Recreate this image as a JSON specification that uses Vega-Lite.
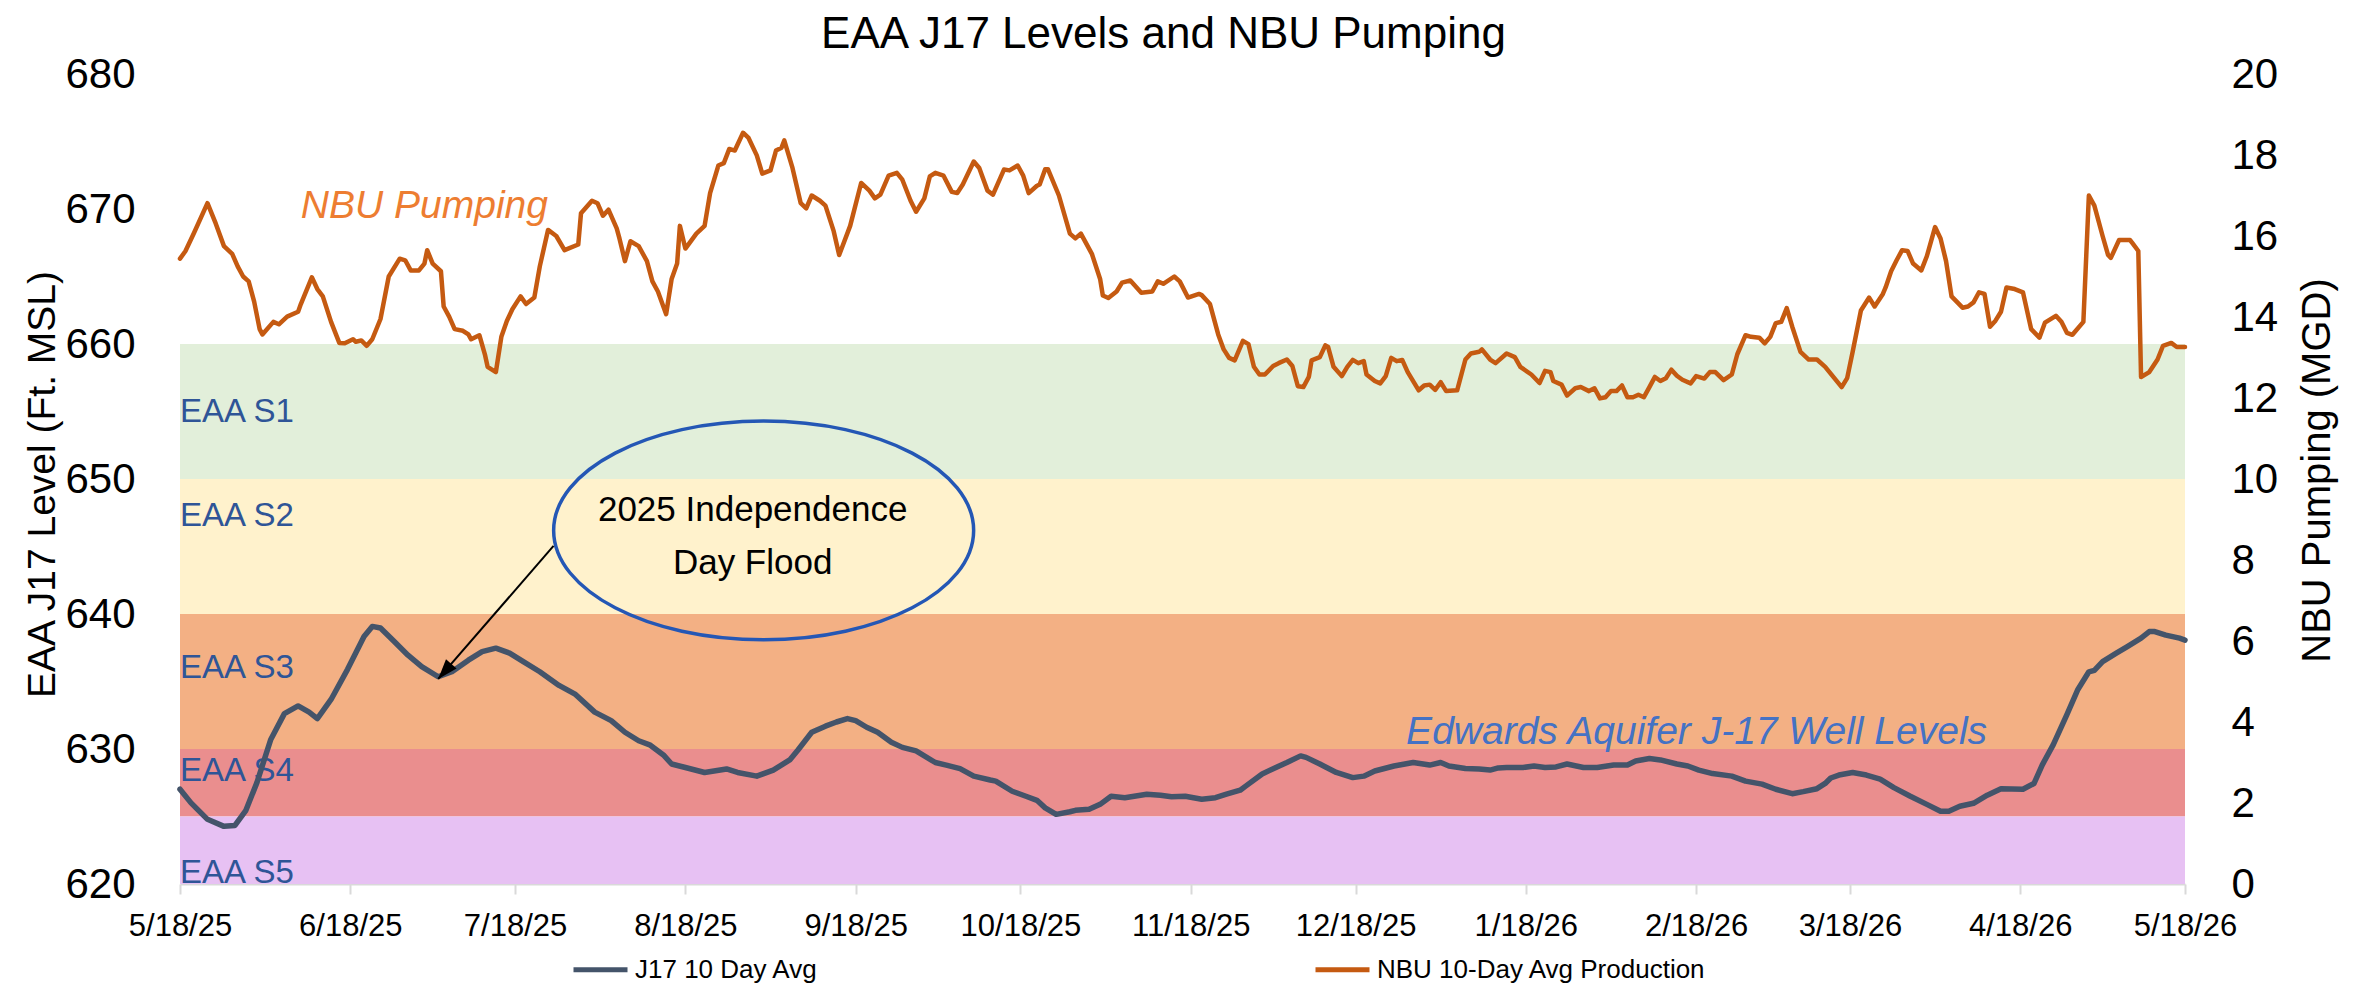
{
  "$schema": "https://vega.github.io/schema/vega-lite/v6.json",
  "width": 2005,
  "height": 810,
  "autosize": {"type": "none"},
  "padding": {"left": 180, "top": 74, "right": 182, "bottom": 102},
  "background": "white",
  "title": {
    "text": "EAA J17 Levels and NBU Pumping",
    "font": "Liberation Sans",
    "fontSize": 44,
    "fontWeight": "normal",
    "color": "black",
    "anchor": "middle",
    "frame": "group",
    "baseline": "alphabetic",
    "offset": -39,
    "dx": -19
  },
  "config": {
    "view": {"stroke": null},
    "font": "Liberation Sans",
    "axis": {"grid": false, "labelColor": "black", "titleColor": "black", "titleFontWeight": "normal"}
  },
  "datasets": {
    "j17": [
      {"date": "2025-05-18T00:00", "level": 627.02},
      {"date": "2025-05-20T00:00", "level": 626.01},
      {"date": "2025-05-23T00:00", "level": 624.79},
      {"date": "2025-05-26T00:00", "level": 624.27},
      {"date": "2025-05-28T00:00", "level": 624.34},
      {"date": "2025-05-30T00:00", "level": 625.46},
      {"date": "2025-06-01T00:00", "level": 627.51},
      {"date": "2025-06-03T12:00", "level": 630.68},
      {"date": "2025-06-06T00:00", "level": 632.62},
      {"date": "2025-06-08T12:00", "level": 633.19},
      {"date": "2025-06-10T12:00", "level": 632.73},
      {"date": "2025-06-12T00:00", "level": 632.25},
      {"date": "2025-06-14T12:00", "level": 633.67},
      {"date": "2025-06-17T12:00", "level": 635.9},
      {"date": "2025-06-20T12:00", "level": 638.33},
      {"date": "2025-06-22T00:00", "level": 639.08},
      {"date": "2025-06-23T12:00", "level": 638.96},
      {"date": "2025-06-26T00:00", "level": 637.96},
      {"date": "2025-06-28T12:00", "level": 636.95},
      {"date": "2025-07-01T00:00", "level": 636.1},
      {"date": "2025-07-04T00:00", "level": 635.35},
      {"date": "2025-07-06T12:00", "level": 635.72},
      {"date": "2025-07-09T12:00", "level": 636.58},
      {"date": "2025-07-12T00:00", "level": 637.21},
      {"date": "2025-07-14T12:00", "level": 637.47},
      {"date": "2025-07-17T00:00", "level": 637.1},
      {"date": "2025-07-19T12:00", "level": 636.47},
      {"date": "2025-07-22T12:00", "level": 635.72},
      {"date": "2025-07-26T00:00", "level": 634.71},
      {"date": "2025-07-29T00:00", "level": 634.04},
      {"date": "2025-08-01T12:00", "level": 632.73},
      {"date": "2025-08-04T12:00", "level": 632.1},
      {"date": "2025-08-07T00:00", "level": 631.24},
      {"date": "2025-08-09T12:00", "level": 630.61},
      {"date": "2025-08-11T12:00", "level": 630.31},
      {"date": "2025-08-14T00:00", "level": 629.56},
      {"date": "2025-08-15T12:00", "level": 628.89},
      {"date": "2025-08-18T00:00", "level": 628.63},
      {"date": "2025-08-21T12:00", "level": 628.26},
      {"date": "2025-08-25T12:00", "level": 628.52},
      {"date": "2025-08-27T12:00", "level": 628.26},
      {"date": "2025-08-31T00:00", "level": 627.99},
      {"date": "2025-09-03T00:00", "level": 628.44},
      {"date": "2025-09-06T00:00", "level": 629.19},
      {"date": "2025-09-07T12:00", "level": 629.93},
      {"date": "2025-09-10T00:00", "level": 631.24},
      {"date": "2025-09-12T12:00", "level": 631.69},
      {"date": "2025-09-14T12:00", "level": 632.0},
      {"date": "2025-09-16T12:00", "level": 632.25},
      {"date": "2025-09-18T00:00", "level": 632.1},
      {"date": "2025-09-20T00:00", "level": 631.61},
      {"date": "2025-09-22T00:00", "level": 631.24},
      {"date": "2025-09-24T12:00", "level": 630.5},
      {"date": "2025-09-26T12:00", "level": 630.12},
      {"date": "2025-09-29T00:00", "level": 629.86},
      {"date": "2025-10-02T12:00", "level": 629.0},
      {"date": "2025-10-04T12:00", "level": 628.81},
      {"date": "2025-10-07T00:00", "level": 628.55},
      {"date": "2025-10-09T12:00", "level": 627.99},
      {"date": "2025-10-12T12:00", "level": 627.7},
      {"date": "2025-10-13T12:00", "level": 627.62},
      {"date": "2025-10-16T12:00", "level": 626.87},
      {"date": "2025-10-19T00:00", "level": 626.5},
      {"date": "2025-10-21T00:00", "level": 626.2},
      {"date": "2025-10-22T12:00", "level": 625.64},
      {"date": "2025-10-24T12:00", "level": 625.16},
      {"date": "2025-10-27T00:00", "level": 625.35},
      {"date": "2025-10-28T00:00", "level": 625.46},
      {"date": "2025-10-30T12:00", "level": 625.53},
      {"date": "2025-11-01T12:00", "level": 625.9},
      {"date": "2025-11-03T12:00", "level": 626.5},
      {"date": "2025-11-06T00:00", "level": 626.39},
      {"date": "2025-11-10T00:00", "level": 626.65},
      {"date": "2025-11-12T12:00", "level": 626.58},
      {"date": "2025-11-14T12:00", "level": 626.47},
      {"date": "2025-11-17T00:00", "level": 626.5},
      {"date": "2025-11-20T00:00", "level": 626.28},
      {"date": "2025-11-22T12:00", "level": 626.39},
      {"date": "2025-11-24T12:00", "level": 626.65},
      {"date": "2025-11-27T00:00", "level": 626.95},
      {"date": "2025-11-28T00:00", "level": 627.25},
      {"date": "2025-12-01T00:00", "level": 628.15},
      {"date": "2025-12-03T12:00", "level": 628.63},
      {"date": "2025-12-05T12:00", "level": 629.0},
      {"date": "2025-12-08T00:00", "level": 629.49},
      {"date": "2025-12-09T00:00", "level": 629.38},
      {"date": "2025-12-11T12:00", "level": 628.89},
      {"date": "2025-12-14T12:00", "level": 628.26},
      {"date": "2025-12-17T12:00", "level": 627.88},
      {"date": "2025-12-19T12:00", "level": 627.99},
      {"date": "2025-12-21T12:00", "level": 628.37},
      {"date": "2025-12-25T00:00", "level": 628.74},
      {"date": "2025-12-28T12:00", "level": 629.0},
      {"date": "2025-12-31T12:00", "level": 628.81},
      {"date": "2026-01-02T12:00", "level": 629.0},
      {"date": "2026-01-04T00:00", "level": 628.74},
      {"date": "2026-01-07T00:00", "level": 628.55},
      {"date": "2026-01-09T12:00", "level": 628.52},
      {"date": "2026-01-11T12:00", "level": 628.44},
      {"date": "2026-01-13T00:00", "level": 628.6},
      {"date": "2026-01-14T12:00", "level": 628.63},
      {"date": "2026-01-17T12:00", "level": 628.63},
      {"date": "2026-01-19T12:00", "level": 628.74},
      {"date": "2026-01-21T12:00", "level": 628.63},
      {"date": "2026-01-23T12:00", "level": 628.67},
      {"date": "2026-01-25T12:00", "level": 628.89},
      {"date": "2026-01-28T12:00", "level": 628.63},
      {"date": "2026-01-31T00:00", "level": 628.63},
      {"date": "2026-02-03T00:00", "level": 628.81},
      {"date": "2026-02-05T12:00", "level": 628.81},
      {"date": "2026-02-07T00:00", "level": 629.11},
      {"date": "2026-02-09T12:00", "level": 629.3},
      {"date": "2026-02-11T12:00", "level": 629.19},
      {"date": "2026-02-14T12:00", "level": 628.89},
      {"date": "2026-02-16T12:00", "level": 628.74},
      {"date": "2026-02-18T12:00", "level": 628.44},
      {"date": "2026-02-21T00:00", "level": 628.18},
      {"date": "2026-02-24T12:00", "level": 627.99},
      {"date": "2026-02-27T00:00", "level": 627.62},
      {"date": "2026-03-02T00:00", "level": 627.4},
      {"date": "2026-03-04T12:00", "level": 627.02},
      {"date": "2026-03-07T12:00", "level": 626.69},
      {"date": "2026-03-09T12:00", "level": 626.84},
      {"date": "2026-03-12T00:00", "level": 627.06},
      {"date": "2026-03-13T12:00", "level": 627.45},
      {"date": "2026-03-14T12:00", "level": 627.85},
      {"date": "2026-03-16T00:00", "level": 628.07},
      {"date": "2026-03-18T12:00", "level": 628.26},
      {"date": "2026-03-21T00:00", "level": 628.07},
      {"date": "2026-03-23T12:00", "level": 627.77},
      {"date": "2026-03-26T00:00", "level": 627.14},
      {"date": "2026-03-29T00:00", "level": 626.5},
      {"date": "2026-04-01T00:00", "level": 625.9},
      {"date": "2026-04-03T12:00", "level": 625.39},
      {"date": "2026-04-05T00:00", "level": 625.39},
      {"date": "2026-04-07T00:00", "level": 625.76},
      {"date": "2026-04-09T12:00", "level": 625.98},
      {"date": "2026-04-12T00:00", "level": 626.58},
      {"date": "2026-04-14T12:00", "level": 627.06},
      {"date": "2026-04-18T12:00", "level": 627.02},
      {"date": "2026-04-20T12:00", "level": 627.44},
      {"date": "2026-04-22T00:00", "level": 628.81},
      {"date": "2026-04-24T00:00", "level": 630.31},
      {"date": "2026-04-26T12:00", "level": 632.55},
      {"date": "2026-04-28T12:00", "level": 634.41},
      {"date": "2026-04-30T12:00", "level": 635.72},
      {"date": "2026-05-01T12:00", "level": 635.83},
      {"date": "2026-05-03T00:00", "level": 636.47},
      {"date": "2026-05-05T12:00", "level": 637.1},
      {"date": "2026-05-07T12:00", "level": 637.59},
      {"date": "2026-05-10T00:00", "level": 638.21},
      {"date": "2026-05-11T12:00", "level": 638.7},
      {"date": "2026-05-12T12:00", "level": 638.7},
      {"date": "2026-05-14T12:00", "level": 638.44},
      {"date": "2026-05-17T00:00", "level": 638.21},
      {"date": "2026-05-18T00:00", "level": 638.07}
    ],
    "nbu": [
      {"date": "2025-05-18T00:00", "mgd": 15.44},
      {"date": "2025-05-19T00:00", "mgd": 15.63},
      {"date": "2025-05-20T12:00", "mgd": 16.06},
      {"date": "2025-05-23T00:00", "mgd": 16.81},
      {"date": "2025-05-24T12:00", "mgd": 16.31},
      {"date": "2025-05-26T00:00", "mgd": 15.75},
      {"date": "2025-05-27T12:00", "mgd": 15.56},
      {"date": "2025-05-28T12:00", "mgd": 15.25},
      {"date": "2025-05-29T12:00", "mgd": 15.0},
      {"date": "2025-05-30T12:00", "mgd": 14.88},
      {"date": "2025-05-31T12:00", "mgd": 14.38},
      {"date": "2025-06-01T12:00", "mgd": 13.7},
      {"date": "2025-06-02T00:00", "mgd": 13.57},
      {"date": "2025-06-04T00:00", "mgd": 13.88},
      {"date": "2025-06-05T00:00", "mgd": 13.82},
      {"date": "2025-06-06T12:00", "mgd": 14.01},
      {"date": "2025-06-08T12:00", "mgd": 14.13},
      {"date": "2025-06-09T00:00", "mgd": 14.32},
      {"date": "2025-06-11T00:00", "mgd": 14.98},
      {"date": "2025-06-12T00:00", "mgd": 14.69},
      {"date": "2025-06-13T00:00", "mgd": 14.51},
      {"date": "2025-06-14T12:00", "mgd": 13.88},
      {"date": "2025-06-16T00:00", "mgd": 13.36},
      {"date": "2025-06-17T00:00", "mgd": 13.35},
      {"date": "2025-06-18T12:00", "mgd": 13.45},
      {"date": "2025-06-19T00:00", "mgd": 13.39},
      {"date": "2025-06-20T00:00", "mgd": 13.42},
      {"date": "2025-06-21T00:00", "mgd": 13.29},
      {"date": "2025-06-22T00:00", "mgd": 13.45},
      {"date": "2025-06-23T12:00", "mgd": 13.95},
      {"date": "2025-06-25T00:00", "mgd": 15.0},
      {"date": "2025-06-27T00:00", "mgd": 15.44},
      {"date": "2025-06-28T00:00", "mgd": 15.4},
      {"date": "2025-06-29T00:00", "mgd": 15.15},
      {"date": "2025-06-30T12:00", "mgd": 15.15},
      {"date": "2025-07-01T12:00", "mgd": 15.32},
      {"date": "2025-07-02T00:00", "mgd": 15.65},
      {"date": "2025-07-03T00:00", "mgd": 15.32},
      {"date": "2025-07-04T12:00", "mgd": 15.13},
      {"date": "2025-07-05T00:00", "mgd": 14.26},
      {"date": "2025-07-06T00:00", "mgd": 14.01},
      {"date": "2025-07-07T00:00", "mgd": 13.7},
      {"date": "2025-07-08T12:00", "mgd": 13.66},
      {"date": "2025-07-09T12:00", "mgd": 13.57},
      {"date": "2025-07-10T00:00", "mgd": 13.45},
      {"date": "2025-07-11T12:00", "mgd": 13.55},
      {"date": "2025-07-12T12:00", "mgd": 13.08},
      {"date": "2025-07-13T00:00", "mgd": 12.77},
      {"date": "2025-07-14T12:00", "mgd": 12.64},
      {"date": "2025-07-15T12:00", "mgd": 13.51},
      {"date": "2025-07-16T12:00", "mgd": 13.9},
      {"date": "2025-07-17T12:00", "mgd": 14.19},
      {"date": "2025-07-19T00:00", "mgd": 14.51},
      {"date": "2025-07-20T00:00", "mgd": 14.32},
      {"date": "2025-07-21T12:00", "mgd": 14.48},
      {"date": "2025-07-22T12:00", "mgd": 15.25},
      {"date": "2025-07-24T00:00", "mgd": 16.15},
      {"date": "2025-07-25T12:00", "mgd": 16.0},
      {"date": "2025-07-27T00:00", "mgd": 15.65},
      {"date": "2025-07-29T12:00", "mgd": 15.79},
      {"date": "2025-07-30T00:00", "mgd": 16.56},
      {"date": "2025-08-01T00:00", "mgd": 16.87},
      {"date": "2025-08-02T00:00", "mgd": 16.81},
      {"date": "2025-08-03T00:00", "mgd": 16.5},
      {"date": "2025-08-04T00:00", "mgd": 16.65},
      {"date": "2025-08-05T12:00", "mgd": 16.19},
      {"date": "2025-08-06T00:00", "mgd": 15.94},
      {"date": "2025-08-07T00:00", "mgd": 15.38},
      {"date": "2025-08-08T00:00", "mgd": 15.87},
      {"date": "2025-08-09T12:00", "mgd": 15.75},
      {"date": "2025-08-11T00:00", "mgd": 15.38},
      {"date": "2025-08-12T00:00", "mgd": 14.88},
      {"date": "2025-08-13T00:00", "mgd": 14.63},
      {"date": "2025-08-14T12:00", "mgd": 14.07},
      {"date": "2025-08-15T12:00", "mgd": 14.94},
      {"date": "2025-08-16T12:00", "mgd": 15.32},
      {"date": "2025-08-17T00:00", "mgd": 16.25},
      {"date": "2025-08-18T00:00", "mgd": 15.69},
      {"date": "2025-08-20T00:00", "mgd": 16.06},
      {"date": "2025-08-21T12:00", "mgd": 16.25},
      {"date": "2025-08-22T12:00", "mgd": 17.06},
      {"date": "2025-08-24T00:00", "mgd": 17.74},
      {"date": "2025-08-25T00:00", "mgd": 17.8},
      {"date": "2025-08-26T00:00", "mgd": 18.15},
      {"date": "2025-08-27T00:00", "mgd": 18.11},
      {"date": "2025-08-28T12:00", "mgd": 18.55},
      {"date": "2025-08-29T12:00", "mgd": 18.42},
      {"date": "2025-08-31T00:00", "mgd": 17.99},
      {"date": "2025-09-01T00:00", "mgd": 17.54},
      {"date": "2025-09-02T12:00", "mgd": 17.62},
      {"date": "2025-09-03T12:00", "mgd": 18.11},
      {"date": "2025-09-04T12:00", "mgd": 18.18},
      {"date": "2025-09-05T00:00", "mgd": 18.36},
      {"date": "2025-09-06T12:00", "mgd": 17.68},
      {"date": "2025-09-08T00:00", "mgd": 16.81},
      {"date": "2025-09-09T00:00", "mgd": 16.68},
      {"date": "2025-09-10T00:00", "mgd": 17.0},
      {"date": "2025-09-11T12:00", "mgd": 16.87},
      {"date": "2025-09-12T12:00", "mgd": 16.75},
      {"date": "2025-09-14T00:00", "mgd": 16.12},
      {"date": "2025-09-15T00:00", "mgd": 15.53},
      {"date": "2025-09-17T00:00", "mgd": 16.25},
      {"date": "2025-09-19T00:00", "mgd": 17.31},
      {"date": "2025-09-20T12:00", "mgd": 17.12},
      {"date": "2025-09-21T12:00", "mgd": 16.93},
      {"date": "2025-09-22T12:00", "mgd": 17.02},
      {"date": "2025-09-24T00:00", "mgd": 17.49},
      {"date": "2025-09-25T12:00", "mgd": 17.56},
      {"date": "2025-09-26T12:00", "mgd": 17.39},
      {"date": "2025-09-28T00:00", "mgd": 16.87},
      {"date": "2025-09-29T00:00", "mgd": 16.6},
      {"date": "2025-09-30T12:00", "mgd": 16.93},
      {"date": "2025-10-01T12:00", "mgd": 17.47},
      {"date": "2025-10-02T12:00", "mgd": 17.56},
      {"date": "2025-10-04T00:00", "mgd": 17.49},
      {"date": "2025-10-05T12:00", "mgd": 17.09},
      {"date": "2025-10-06T12:00", "mgd": 17.06},
      {"date": "2025-10-07T12:00", "mgd": 17.27},
      {"date": "2025-10-09T12:00", "mgd": 17.84},
      {"date": "2025-10-10T12:00", "mgd": 17.68},
      {"date": "2025-10-12T00:00", "mgd": 17.12},
      {"date": "2025-10-13T00:00", "mgd": 17.02},
      {"date": "2025-10-15T00:00", "mgd": 17.64},
      {"date": "2025-10-16T00:00", "mgd": 17.62},
      {"date": "2025-10-17T12:00", "mgd": 17.74},
      {"date": "2025-10-18T12:00", "mgd": 17.49},
      {"date": "2025-10-19T12:00", "mgd": 17.06},
      {"date": "2025-10-21T00:00", "mgd": 17.24},
      {"date": "2025-10-21T12:00", "mgd": 17.27},
      {"date": "2025-10-22T12:00", "mgd": 17.65},
      {"date": "2025-10-23T00:00", "mgd": 17.65},
      {"date": "2025-10-25T00:00", "mgd": 17.0},
      {"date": "2025-10-27T00:00", "mgd": 16.06},
      {"date": "2025-10-28T00:00", "mgd": 15.94},
      {"date": "2025-10-29T00:00", "mgd": 16.06},
      {"date": "2025-10-31T00:00", "mgd": 15.56},
      {"date": "2025-11-01T12:00", "mgd": 14.94},
      {"date": "2025-11-02T00:00", "mgd": 14.53},
      {"date": "2025-11-03T00:00", "mgd": 14.47},
      {"date": "2025-11-04T12:00", "mgd": 14.63},
      {"date": "2025-11-05T12:00", "mgd": 14.85},
      {"date": "2025-11-07T00:00", "mgd": 14.9},
      {"date": "2025-11-09T00:00", "mgd": 14.6},
      {"date": "2025-11-11T00:00", "mgd": 14.63},
      {"date": "2025-11-12T00:00", "mgd": 14.88},
      {"date": "2025-11-13T00:00", "mgd": 14.82},
      {"date": "2025-11-15T00:00", "mgd": 15.0},
      {"date": "2025-11-16T00:00", "mgd": 14.88},
      {"date": "2025-11-17T12:00", "mgd": 14.48},
      {"date": "2025-11-19T12:00", "mgd": 14.57},
      {"date": "2025-11-20T00:00", "mgd": 14.54},
      {"date": "2025-11-21T12:00", "mgd": 14.32},
      {"date": "2025-11-23T00:00", "mgd": 13.57},
      {"date": "2025-11-24T00:00", "mgd": 13.2},
      {"date": "2025-11-25T00:00", "mgd": 12.99},
      {"date": "2025-11-26T00:00", "mgd": 12.93},
      {"date": "2025-11-27T12:00", "mgd": 13.41},
      {"date": "2025-11-28T12:00", "mgd": 13.33},
      {"date": "2025-11-29T12:00", "mgd": 12.77},
      {"date": "2025-11-30T12:00", "mgd": 12.58},
      {"date": "2025-12-01T12:00", "mgd": 12.58},
      {"date": "2025-12-03T00:00", "mgd": 12.79},
      {"date": "2025-12-04T00:00", "mgd": 12.86},
      {"date": "2025-12-05T12:00", "mgd": 12.95},
      {"date": "2025-12-06T12:00", "mgd": 12.79},
      {"date": "2025-12-07T12:00", "mgd": 12.29},
      {"date": "2025-12-08T12:00", "mgd": 12.27},
      {"date": "2025-12-09T12:00", "mgd": 12.52},
      {"date": "2025-12-10T00:00", "mgd": 12.93},
      {"date": "2025-12-11T12:00", "mgd": 13.01},
      {"date": "2025-12-12T12:00", "mgd": 13.3},
      {"date": "2025-12-13T00:00", "mgd": 13.26},
      {"date": "2025-12-14T00:00", "mgd": 12.77},
      {"date": "2025-12-15T12:00", "mgd": 12.54},
      {"date": "2025-12-16T12:00", "mgd": 12.77},
      {"date": "2025-12-17T12:00", "mgd": 12.94},
      {"date": "2025-12-18T12:00", "mgd": 12.86},
      {"date": "2025-12-19T12:00", "mgd": 12.91},
      {"date": "2025-12-20T00:00", "mgd": 12.58},
      {"date": "2025-12-21T12:00", "mgd": 12.42},
      {"date": "2025-12-22T12:00", "mgd": 12.36},
      {"date": "2025-12-23T12:00", "mgd": 12.54},
      {"date": "2025-12-24T12:00", "mgd": 12.99},
      {"date": "2025-12-25T12:00", "mgd": 12.91},
      {"date": "2025-12-26T12:00", "mgd": 12.94},
      {"date": "2025-12-27T12:00", "mgd": 12.64},
      {"date": "2025-12-29T12:00", "mgd": 12.19},
      {"date": "2025-12-30T12:00", "mgd": 12.31},
      {"date": "2025-12-31T12:00", "mgd": 12.33},
      {"date": "2026-01-01T12:00", "mgd": 12.2},
      {"date": "2026-01-02T12:00", "mgd": 12.39},
      {"date": "2026-01-03T12:00", "mgd": 12.17},
      {"date": "2026-01-05T12:00", "mgd": 12.19},
      {"date": "2026-01-07T00:00", "mgd": 12.95},
      {"date": "2026-01-08T00:00", "mgd": 13.1},
      {"date": "2026-01-09T12:00", "mgd": 13.14},
      {"date": "2026-01-10T00:00", "mgd": 13.2},
      {"date": "2026-01-11T12:00", "mgd": 12.95},
      {"date": "2026-01-12T12:00", "mgd": 12.86},
      {"date": "2026-01-14T12:00", "mgd": 13.1},
      {"date": "2026-01-16T00:00", "mgd": 13.01},
      {"date": "2026-01-17T00:00", "mgd": 12.77},
      {"date": "2026-01-19T00:00", "mgd": 12.58},
      {"date": "2026-01-20T12:00", "mgd": 12.37},
      {"date": "2026-01-21T12:00", "mgd": 12.67},
      {"date": "2026-01-22T12:00", "mgd": 12.64},
      {"date": "2026-01-23T00:00", "mgd": 12.42},
      {"date": "2026-01-24T12:00", "mgd": 12.33},
      {"date": "2026-01-25T12:00", "mgd": 12.06},
      {"date": "2026-01-27T00:00", "mgd": 12.24},
      {"date": "2026-01-28T00:00", "mgd": 12.27},
      {"date": "2026-01-29T12:00", "mgd": 12.17},
      {"date": "2026-01-30T12:00", "mgd": 12.24},
      {"date": "2026-01-31T12:00", "mgd": 11.99},
      {"date": "2026-02-01T12:00", "mgd": 12.02},
      {"date": "2026-02-02T12:00", "mgd": 12.17},
      {"date": "2026-02-03T12:00", "mgd": 12.17},
      {"date": "2026-02-04T12:00", "mgd": 12.31},
      {"date": "2026-02-05T12:00", "mgd": 12.02},
      {"date": "2026-02-06T12:00", "mgd": 12.02},
      {"date": "2026-02-07T12:00", "mgd": 12.08},
      {"date": "2026-02-08T12:00", "mgd": 12.02},
      {"date": "2026-02-09T12:00", "mgd": 12.27},
      {"date": "2026-02-10T12:00", "mgd": 12.52},
      {"date": "2026-02-11T12:00", "mgd": 12.42},
      {"date": "2026-02-12T12:00", "mgd": 12.49},
      {"date": "2026-02-13T12:00", "mgd": 12.7},
      {"date": "2026-02-14T12:00", "mgd": 12.55},
      {"date": "2026-02-15T12:00", "mgd": 12.45},
      {"date": "2026-02-17T00:00", "mgd": 12.36},
      {"date": "2026-02-18T00:00", "mgd": 12.54},
      {"date": "2026-02-19T12:00", "mgd": 12.48},
      {"date": "2026-02-20T12:00", "mgd": 12.64},
      {"date": "2026-02-21T12:00", "mgd": 12.64},
      {"date": "2026-02-23T00:00", "mgd": 12.44},
      {"date": "2026-02-24T12:00", "mgd": 12.58},
      {"date": "2026-02-25T12:00", "mgd": 13.08},
      {"date": "2026-02-27T00:00", "mgd": 13.55},
      {"date": "2026-02-28T00:00", "mgd": 13.51},
      {"date": "2026-03-01T12:00", "mgd": 13.49},
      {"date": "2026-03-02T12:00", "mgd": 13.35},
      {"date": "2026-03-03T12:00", "mgd": 13.51},
      {"date": "2026-03-04T12:00", "mgd": 13.85},
      {"date": "2026-03-05T12:00", "mgd": 13.88},
      {"date": "2026-03-06T12:00", "mgd": 14.22},
      {"date": "2026-03-07T12:00", "mgd": 13.76},
      {"date": "2026-03-09T00:00", "mgd": 13.14},
      {"date": "2026-03-10T12:00", "mgd": 12.95},
      {"date": "2026-03-12T00:00", "mgd": 12.95},
      {"date": "2026-03-13T12:00", "mgd": 12.77},
      {"date": "2026-03-14T12:00", "mgd": 12.6},
      {"date": "2026-03-16T12:00", "mgd": 12.27},
      {"date": "2026-03-17T12:00", "mgd": 12.49},
      {"date": "2026-03-18T12:00", "mgd": 13.14},
      {"date": "2026-03-20T00:00", "mgd": 14.16},
      {"date": "2026-03-21T12:00", "mgd": 14.48},
      {"date": "2026-03-22T12:00", "mgd": 14.26},
      {"date": "2026-03-24T00:00", "mgd": 14.57},
      {"date": "2026-03-24T12:00", "mgd": 14.73},
      {"date": "2026-03-25T12:00", "mgd": 15.13},
      {"date": "2026-03-26T12:00", "mgd": 15.4},
      {"date": "2026-03-27T12:00", "mgd": 15.65},
      {"date": "2026-03-28T12:00", "mgd": 15.63},
      {"date": "2026-03-29T12:00", "mgd": 15.32},
      {"date": "2026-03-31T00:00", "mgd": 15.15},
      {"date": "2026-04-01T00:00", "mgd": 15.5},
      {"date": "2026-04-02T12:00", "mgd": 16.22},
      {"date": "2026-04-03T12:00", "mgd": 15.94},
      {"date": "2026-04-04T12:00", "mgd": 15.38},
      {"date": "2026-04-05T12:00", "mgd": 14.51},
      {"date": "2026-04-07T12:00", "mgd": 14.23},
      {"date": "2026-04-08T12:00", "mgd": 14.26},
      {"date": "2026-04-09T12:00", "mgd": 14.36},
      {"date": "2026-04-10T12:00", "mgd": 14.61},
      {"date": "2026-04-11T12:00", "mgd": 14.57},
      {"date": "2026-04-12T12:00", "mgd": 13.76},
      {"date": "2026-04-13T12:00", "mgd": 13.91},
      {"date": "2026-04-14T12:00", "mgd": 14.13},
      {"date": "2026-04-15T12:00", "mgd": 14.73},
      {"date": "2026-04-17T00:00", "mgd": 14.69},
      {"date": "2026-04-18T12:00", "mgd": 14.61},
      {"date": "2026-04-20T00:00", "mgd": 13.7},
      {"date": "2026-04-21T12:00", "mgd": 13.49},
      {"date": "2026-04-22T12:00", "mgd": 13.86},
      {"date": "2026-04-24T12:00", "mgd": 14.03},
      {"date": "2026-04-25T12:00", "mgd": 13.88},
      {"date": "2026-04-26T12:00", "mgd": 13.61},
      {"date": "2026-04-27T12:00", "mgd": 13.56},
      {"date": "2026-04-29T12:00", "mgd": 13.88},
      {"date": "2026-04-30T12:00", "mgd": 17.0},
      {"date": "2026-05-01T12:00", "mgd": 16.75},
      {"date": "2026-05-03T00:00", "mgd": 16.0},
      {"date": "2026-05-04T00:00", "mgd": 15.53},
      {"date": "2026-05-04T12:00", "mgd": 15.46},
      {"date": "2026-05-06T00:00", "mgd": 15.9},
      {"date": "2026-05-08T00:00", "mgd": 15.9},
      {"date": "2026-05-08T12:00", "mgd": 15.81},
      {"date": "2026-05-09T12:00", "mgd": 15.63},
      {"date": "2026-05-10T00:00", "mgd": 12.52},
      {"date": "2026-05-11T12:00", "mgd": 12.64},
      {"date": "2026-05-13T00:00", "mgd": 12.95},
      {"date": "2026-05-14T00:00", "mgd": 13.29},
      {"date": "2026-05-15T12:00", "mgd": 13.36},
      {"date": "2026-05-16T12:00", "mgd": 13.26},
      {"date": "2026-05-18T00:00", "mgd": 13.26}
    ],
    "bands": [
      {"stage": "EAA S1", "date": "2025-05-18T00:00", "date2": "2026-05-18T00:00", "level": 660, "lo": 650},
      {"stage": "EAA S2", "date": "2025-05-18T00:00", "date2": "2026-05-18T00:00", "level": 650, "lo": 640},
      {"stage": "EAA S3", "date": "2025-05-18T00:00", "date2": "2026-05-18T00:00", "level": 640, "lo": 630},
      {"stage": "EAA S4", "date": "2025-05-18T00:00", "date2": "2026-05-18T00:00", "level": 630, "lo": 625},
      {"stage": "EAA S5", "date": "2025-05-18T00:00", "date2": "2026-05-18T00:00", "level": 625, "lo": 620}
    ],
    "bandLabels": [
      {"stage": "EAA S1", "date": "2025-05-18T00:00", "level": 654.22},
      {"stage": "EAA S2", "date": "2025-05-18T00:00", "level": 646.52},
      {"stage": "EAA S3", "date": "2025-05-18T00:00", "level": 635.26},
      {"stage": "EAA S4", "date": "2025-05-18T00:00", "level": 627.63},
      {"stage": "EAA S5", "date": "2025-05-18T00:00", "level": 620.07}
    ]
  },
  "encoding": {
    "x": {
      "field": "date", "type": "temporal", "title": null,
      "scale": {"domain": [{"year": 2025, "month": 5, "date": 18}, {"year": 2026, "month": 5, "date": 18}], "nice": false},
      "axis": {
        "values": [
          {"year": 2025, "month": 5, "date": 18}, {"year": 2025, "month": 6, "date": 18}, {"year": 2025, "month": 7, "date": 18},
          {"year": 2025, "month": 8, "date": 18}, {"year": 2025, "month": 9, "date": 18}, {"year": 2025, "month": 10, "date": 18},
          {"year": 2025, "month": 11, "date": 18}, {"year": 2025, "month": 12, "date": 18}, {"year": 2026, "month": 1, "date": 18},
          {"year": 2026, "month": 2, "date": 18}, {"year": 2026, "month": 3, "date": 18}, {"year": 2026, "month": 4, "date": 18},
          {"year": 2026, "month": 5, "date": 18}
        ],
        "format": "%-m/%-d/%y",
        "labelFont": "Liberation Sans",
        "labelFontSize": 31,
        "labelPadding": 17,
        "labelFlush": false,
        "labelOverlap": false,
        "labelBound": false,
        "tickSize": 10,
        "tickWidth": 2,
        "tickColor": "#D9D9D9",
        "domainColor": "#D9D9D9",
        "domainWidth": 2,
        "grid": false
      }
    }
  },
  "layer": [
    {
      "encoding": {
        "y": {
          "field": "level", "type": "quantitative", "title": "EAA J17 Level (Ft. MSL)",
          "scale": {"domain": [620, 680], "nice": false, "zero": false},
          "axis": {
            "values": [620, 630, 640, 650, 660, 670, 680],
            "labelFont": "Liberation Sans",
            "labelFontSize": 42,
            "labelPadding": 45,
            "ticks": false,
            "domain": false,
            "grid": false,
            "titleFont": "Liberation Sans",
            "titleFontSize": 39,
            "titleFontWeight": "normal",
            "titleAngle": 270,
            "titleX": -126,
            "titleY": 410,
            "titleAlign": "center",
            "titleBaseline": "alphabetic"
          }
        }
      },
      "layer": [
        {
          "data": {"name": "bands"},
          "mark": {"type": "rect", "opacity": 1},
          "encoding": {
            "x2": {"field": "date2"},
            "y2": {"field": "lo"},
            "fill": {"field": "stage", "type": "nominal", "legend": null,
              "scale": {"domain": ["EAA S1", "EAA S2", "EAA S3", "EAA S4", "EAA S5"],
                        "range": ["#E2EFDA", "#FFF2CC", "#F3B084", "#EA8E8E", "#E7C1F3"]}}
          }
        },
        {
          "data": {"name": "bandLabels"},
          "mark": {"type": "text", "align": "left", "baseline": "alphabetic", "font": "Liberation Sans", "fontSize": 33, "color": "#2F5597"},
          "encoding": {"text": {"field": "stage"}}
        },
        {
          "data": {"name": "j17"},
          "mark": {"type": "line", "strokeWidth": 5.5, "strokeJoin": "round", "strokeCap": "round"},
          "encoding": {
            "color": {
              "datum": "J17 10 Day Avg", "type": "nominal",
              "scale": {"domain": ["J17 10 Day Avg", "NBU 10-Day Avg Production"], "range": ["#44546A", "#C55A11"]},
              "legend": {
                "orient": "none", "legendX": 391, "legendY": 866, "direction": "horizontal",
                "title": null, "symbolType": "stroke", "symbolSize": 2916, "symbolStrokeWidth": 5,
                "labelFont": "Liberation Sans", "labelFontSize": 26, "labelColor": "black",
                "labelOffset": 5, "columnPadding": 486, "padding": 0, "labelLimit": 600
              }
            }
          }
        },
        {
          "data": {"values": [{"date": "2025-09-01T06:00", "level": 646.19}]},
          "mark": {
            "type": "point", "filled": false, "opacity": 1, "stroke": "#2457B5", "strokeWidth": 3.5, "size": 176400,
            "shape": "M-1,0C-1,-0.2877,-0.5523,-0.521,0,-0.521C0.5523,-0.521,1,-0.2877,1,0C1,0.2877,0.5523,0.521,0,0.521C-0.5523,0.521,-1,0.2877,-1,0Z"
          }
        },
        {
          "data": {"values": [{"date": "2025-08-30T06:00", "level": 646.89, "note": "2025 Independence\nDay Flood"}]},
          "mark": {"type": "text", "align": "center", "baseline": "alphabetic", "lineBreak": "\n", "lineHeight": 53, "font": "Liberation Sans", "fontSize": 35, "color": "black"},
          "encoding": {"text": {"field": "note"}}
        },
        {
          "data": {"values": [{"date": "2025-07-25T00:00", "level": 645.04, "date2": "2025-07-04T00:00", "level2": 635.19}]},
          "mark": {"type": "rule", "color": "black", "strokeWidth": 2},
          "encoding": {
            "x2": {"field": "date2"},
            "y2": {"field": "level2"}
          }
        },
        {
          "data": {"values": [{"date": "2025-07-04T00:00", "level": 635.19}]},
          "mark": {"type": "point", "filled": true, "opacity": 1, "color": "black", "size": 625, "angle": 221, "shape": "M0,0L-0.56,1.6L0.56,1.6Z"}
        },
        {
          "data": {"values": [{"date": "2025-12-27T05:00", "level": 630.37, "note": "Edwards Aquifer J-17 Well Levels"}]},
          "mark": {"type": "text", "align": "left", "baseline": "alphabetic", "font": "Liberation Sans", "fontSize": 39, "fontStyle": "italic", "color": "#4472C4"},
          "encoding": {"text": {"field": "note"}}
        },
        {
          "data": {"values": [{"date": "2025-06-09T00:00", "level": 669.33, "note": "NBU Pumping"}]},
          "mark": {"type": "text", "align": "left", "baseline": "alphabetic", "font": "Liberation Sans", "fontSize": 39, "fontStyle": "italic", "color": "#ED7D31"},
          "encoding": {"text": {"field": "note"}}
        }
      ]
    },
    {
      "encoding": {
        "y": {
          "field": "mgd", "type": "quantitative", "title": "NBU Pumping (MGD)",
          "scale": {"domain": [0, 20], "nice": false},
          "axis": {
            "orient": "right",
            "values": [0, 2, 4, 6, 8, 10, 12, 14, 16, 18, 20],
            "labelFont": "Liberation Sans",
            "labelFontSize": 42,
            "labelPadding": 46,
            "ticks": false,
            "domain": false,
            "grid": false,
            "titleFont": "Liberation Sans",
            "titleFontSize": 40,
            "titleFontWeight": "normal",
            "titleAngle": 270,
            "titleX": 144,
            "titleY": 396,
            "titleAlign": "center",
            "titleBaseline": "alphabetic"
          }
        }
      },
      "layer": [
        {
          "data": {"name": "nbu"},
          "mark": {"type": "line", "strokeWidth": 4.5, "strokeJoin": "round", "strokeCap": "round"},
          "encoding": {
            "color": {"datum": "NBU 10-Day Avg Production", "type": "nominal"}
          }
        }
      ]
    }
  ],
  "resolve": {"scale": {"y": "independent"}}
}
